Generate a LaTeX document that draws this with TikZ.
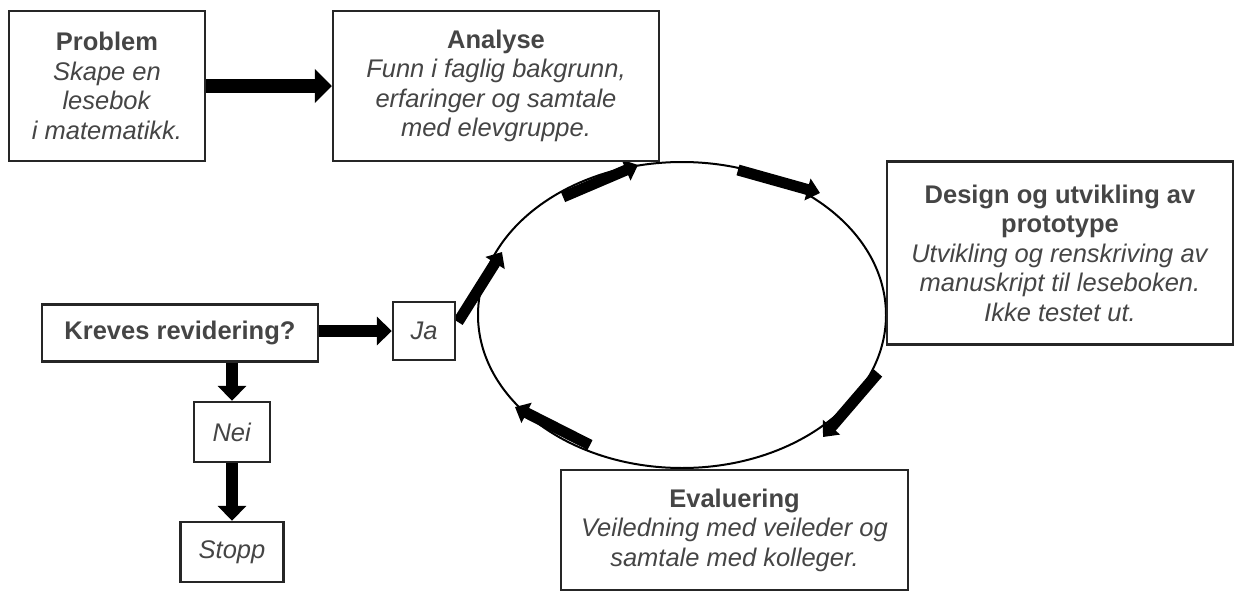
\documentclass[tikz,border=0pt]{standalone}
\usepackage{fontspec}
\setmainfont{Liberation Sans}
\usetikzlibrary{arrows.meta,shapes.geometric}
\definecolor{txtgray}{HTML}{454545}

\tikzset{
  box/.style={draw=black!85,line width=2.4pt,fill=white,align=center,text=txtgray,inner sep=0pt},
  fat/.style={line width=12pt,-{Triangle[width=28pt,length=15pt]}},
  bigfat/.style={line width=13.5pt,-{Triangle[width=33pt,length=17pt]}},
  cyclefat/.style={line width=11pt,-{Triangle[width=22pt,length=13pt]}},
}

\begin{document}
\begin{tikzpicture}
  [x=1pt,y=-1pt,font=\fontsize{25.5}{29.5}\selectfont]
  \useasboundingbox (0,0) rectangle (1235,592);

  % the cycle
  \node[draw,ellipse,line width=2pt,minimum width=408pt,minimum height=306pt,inner sep=0pt] (cyc) at (682,315) {};
  \coordinate (c1a) at (458,322); \coordinate (c1b) at (502,252);
  \coordinate (c2a) at (563,197); \coordinate (c2b) at (638,165);
  \coordinate (c3a) at (738,170); \coordinate (c3b) at (820,193);
  \coordinate (c4a) at (878,373); \coordinate (c4b) at (823,437);
  \coordinate (c5a) at (590,445); \coordinate (c5b) at (515,407);
  \foreach \from/\to in {c1a/c1b,c2a/c2b,c3a/c3b,c4a/c4b,c5a/c5b}
    \draw[cyclefat] (\from) -- (\to);

  % boxes
  \node[box,minimum width=196pt,minimum height=150pt] (prob) at (107,86)
    {\textbf{Problem}\\\textit{Skape en}\\\textit{lesebok}\\\textit{i matematikk.}};
  \node[box,minimum width=326pt,minimum height=150pt] (ana) at (496,86)
    {\textbf{Analyse}\\\textit{Funn i faglig bakgrunn,}\\\textit{erfaringer og samtale}\\\textit{med elevgruppe.}};
  \node[box,minimum width=346pt,minimum height=183pt] (des) at (1060,253)
    {\textbf{Design og utvikling av}\\\textbf{prototype}\\\textit{Utvikling og renskriving av}\\\textit{manuskript til leseboken.}\\\textit{Ikke testet ut.}};
  \node[box,minimum width=347pt,minimum height=120pt] (eval) at (734.5,530)
    {\textbf{Evaluering}\\\textit{Veiledning med veileder og}\\\textit{samtale med kolleger.}};
  \node[box,minimum width=276pt,minimum height=57pt] (krev) at (180,333)
    {\textbf{Kreves revidering?}};
  \node[box,minimum width=62pt,minimum height=58pt] (ja) at (424,331) {\textit{Ja}};
  \node[box,minimum width=76pt,minimum height=60pt] (nei) at (232,432) {\textit{Nei}};
  \node[box,minimum width=103pt,minimum height=60pt] (stopp) at (232,552) {\textit{Stopp}};

  % connectors
  \draw[bigfat] (prob) -- (ana);
  \draw[fat] (krev.east |- ja) -- (ja);
  \draw[fat] (krev.south -| nei) -- (nei);
  \draw[fat] (nei) -- (stopp);
\end{tikzpicture}
\end{document}
